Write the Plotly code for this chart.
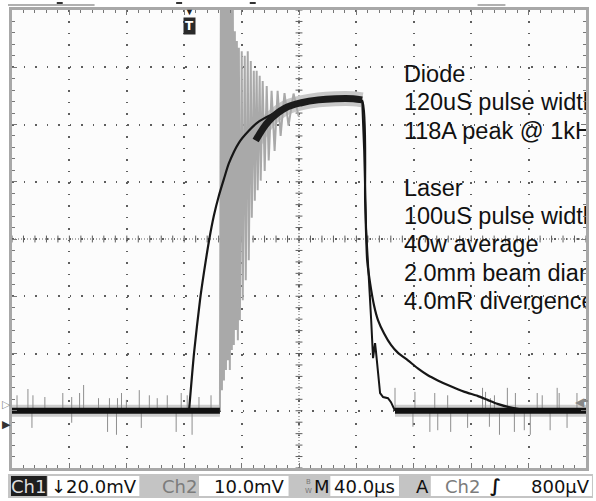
import numpy as np
import plotly.graph_objects as go

# ---------------- data (time in µs, amplitude in screen divisions) ----------------
base_level = -3.0
trigger_t = -76.0

diode_t = [-76.6, -73.1, -69.0, -66.2, -62.7, -59.3, -55.8, -52.3, -48.9, -41.9, -35.0, -28.1,
           -21.1, -10.7, -0.3, 13.5, 27.4, 37.8, 44.0, 46.1, 47.5, 49.6, 52.3, 55.1, 59.3, 64.1,
           69.0, 75.9, 82.8, 89.8, 96.7, 103.7, 115.4, 124.4, 131.4, 138.3, 148.7, 159.1, 200.0]
diode_v = [-2.99, -1.98, -1.07, -0.58, -0.03, 0.41, 0.76, 1.05, 1.32, 1.68, 1.89, 2.05,
           2.15, 2.27, 2.34, 2.41, 2.45, 2.43, 2.41, 0.67, -0.37, -0.78, -1.16, -1.42, -1.65, -1.85,
           -1.99, -2.12, -2.26, -2.38, -2.47, -2.55, -2.67, -2.74, -2.81, -2.88, -2.95, -2.99, -3.0]

laser_pre_t = [-200.0, -55.1]
laser_pre_v = [-3.0, -3.0]

laser_ring_t = [-55.1, -54.4, -53.7, -53.0, -52.3, -51.6, -50.9, -50.3, -49.6, -48.9, -48.2, -47.5,
                -46.8, -46.1, -45.4, -44.7, -44.0, -43.3, -42.6, -41.9, -41.2, -39.9, -39.2, -37.8,
                -37.1, -35.7, -35.0, -33.6, -32.9, -31.5, -30.8, -29.5, -28.8, -27.4, -26.7, -25.3,
                -23.9, -22.5, -21.1, -19.1, -17.0, -14.9, -12.8, -10.1, -7.3, -3.8, -0.3]
laser_ring_v = [-3.0, 4.5, -2.64, 4.5, -2.47, 4.5, -2.29, 4.5, -2.12, 4.5, -2.29, 4.3,
                -1.94, 4.0, -1.85, 3.63, -1.59, 3.46, -1.77, 3.34, -1.42, 3.28, -1.07, 3.20,
                -0.72, 3.28, -0.37, 3.11, 0.37, 2.94, 0.67, 2.94, 0.85, 2.85, 1.02, 2.76,
                1.19, 2.67, 1.37, 2.59, 1.54, 2.59, 1.80, 2.55, 1.98, 2.54, 2.15]

laser_plateau_t = [-30.2, -21.1, -9.4, 1.7, 13.5, 25.3, 37.8, 44.0]
laser_plateau_v = [1.72, 2.06, 2.29, 2.38, 2.43, 2.45, 2.45, 2.43]

laser_fall_t = [44.0, 45.4, 46.8, 48.2, 49.6, 50.3, 51.6, 52.3, 53.0, 53.7, 55.1, 56.5,
                58.6, 62.0, 64.1, 66.9]
laser_fall_v = [2.43, 1.54, 0.15, -0.46, -0.90, -1.42, -2.08, -1.94, -1.82, -1.98, -2.33, -2.69,
                -2.76, -2.78, -2.85, -3.0]

laser_post_t = [66.9, 200.0]
laser_post_v = [-3.0, -3.0]

spike_t = [-196.5, -188.9, -185.4, -177.1, -164.6, -158.4, -152.9, -150.1, -139.7, -132.1,
           -126.5, -123.7, -120.3, -111.3, -104.3, -98.8, -91.8, -82.1, -77.9, -69.7, -61.3,
           -186.1, -158.4, -133.4, -127.2, -109.9, -85.6, -74.5,
           66.9, 80.8, 94.6, 103.6, 127.9, 130.0, 133.4, 136.2, 145.2, 150.8, 166.0, 169.5,
           179.9, 181.3, 193.7,
           79.4, 91.2, 96.7, 105.7, 117.5, 132.7, 139.7, 150.1, 157.0, 161.2, 175.0, 186.8]
spike_v = [-2.73, -2.62, -2.73, -2.76, -2.69, -2.76, -2.69, -2.55, -2.78, -2.78,
           -2.78, -2.69, -2.81, -2.64, -2.73, -2.78, -2.73, -2.69, -2.73, -2.76, -2.73,
           -3.30, -3.21, -3.37, -3.42, -3.30, -3.37, -3.42,
           -2.60, -2.67, -2.69, -2.73, -2.60, -2.67, -2.78, -2.73, -2.60, -2.69, -2.69, -2.73,
           -2.60, -2.69, -2.69,
           -3.28, -3.37, -3.34, -3.37, -3.30, -3.28, -3.42, -3.37, -3.34, -3.42, -3.34, -3.30]

notes = ["Diode", "120uS pulse width", "118A peak @ 1kHz", "", "Laser",
         "100uS pulse width", "40w average", "2.0mm beam diameter", "4.0mR divergence"]

ch1_label = "Ch1"
ch1_scale = "↓20.0mV"
ch2_label = "Ch2"
ch2_scale = "10.0mV"
time_scale = "40.0µs"
trig_source = "Ch2"
trig_level = "800µV"

# ---------------- figure ----------------
W, H = 596, 501
ML, MR, MT, MB = 12, 7, 9, 33
PW, PH = W - ML - MR, H - MT - MB


def xp(px):
    return (px - ML) / PW


def yp(py):
    return (H - MB - py) / PH


fig = go.Figure()
dark = "#161616"

# halos (persistence fuzz)
fig.add_trace(go.Scatter(x=laser_pre_t + [None] + laser_post_t, y=laser_pre_v + [None] + laser_post_v,
                         mode="lines", line=dict(color="#cdcdcd", width=12), hoverinfo="skip"))
fig.add_trace(go.Scatter(x=laser_plateau_t, y=laser_plateau_v, mode="lines",
                         line=dict(color="#c8c8c8", width=15, shape="spline"), hoverinfo="skip"))

# noise spikes
sx, sy = [], []
for t, v in zip(spike_t, spike_v):
    sx += [t, t, None]
    sy += [base_level, v, None]
fig.add_trace(go.Scatter(x=sx, y=sy, mode="lines", line=dict(color="#8e8e8e", width=1), hoverinfo="skip"))

# relaxation oscillation ringing
fig.add_trace(go.Scatter(x=laser_ring_t, y=laser_ring_v, mode="lines",
                         line=dict(color="#a9a9a9", width=2), hoverinfo="skip"))

# diode trace
fig.add_trace(go.Scatter(x=diode_t, y=diode_v, mode="lines",
                         line=dict(color=dark, width=2.2, shape="spline", smoothing=0.6), hoverinfo="skip"))

# laser plateau and fall
fig.add_trace(go.Scatter(x=laser_plateau_t, y=laser_plateau_v, mode="lines",
                         line=dict(color="#1c1c1c", width=7, shape="spline"), hoverinfo="skip"))
fig.add_trace(go.Scatter(x=laser_fall_t, y=laser_fall_v, mode="lines",
                         line=dict(color=dark, width=2), hoverinfo="skip"))

# baselines
fig.add_trace(go.Scatter(x=laser_pre_t + [None] + laser_post_t, y=laser_pre_v + [None] + laser_post_v,
                         mode="lines", line=dict(color="#111111", width=6), hoverinfo="skip"))

# notes (clipped by the graticule like the scope screen)
note_x = 73.1
note_top = 2.85
note_step = 0.497
fig.add_trace(go.Scatter(x=[note_x] * len(notes), y=[note_top - i * note_step for i in range(len(notes))],
                         mode="text", text=notes, textposition="middle right", cliponaxis=True,
                         textfont=dict(family="Liberation Sans, Arial, sans-serif", size=23.5, color="#111111"),
                         hoverinfo="skip"))

# ---------------- graticule ----------------
shapes = []
grid_c = "#5e5e5e"
shapes.append(dict(type="line", xref="x", yref="y", x0=-200, x1=200, y0=0, y1=0, layer="below",
                   line=dict(color=grid_c, width=1, dash="1px,2px")))
shapes.append(dict(type="line", xref="x", yref="y", x0=0, x1=0, y0=-4, y1=4, layer="below",
                   line=dict(color=grid_c, width=1, dash="1px,2px")))
for t in np.arange(-200, 200.1, 8):
    shapes.append(dict(type="line", xref="x", yref="y", x0=t, x1=t, y0=-0.06, y1=0.06, layer="below",
                       line=dict(color=grid_c, width=1)))
for v in np.arange(-4, 4.01, 0.2):
    shapes.append(dict(type="line", xref="x", yref="y", x0=-2.4, x1=2.4, y0=v, y1=v, layer="below",
                       line=dict(color=grid_c, width=1)))

# top record bar
shapes.append(dict(type="line", xref="paper", yref="paper", x0=xp(8), x1=xp(95), y0=yp(4), y1=yp(4),
                   line=dict(color="#b0b0b0", width=2)))
shapes.append(dict(type="line", xref="paper", yref="paper", x0=xp(480), x1=xp(508), y0=yp(4), y1=yp(4),
                   line=dict(color="#b0b0b0", width=2)))
for mx in (60, 180, 254):
    shapes.append(dict(type="line", xref="paper", yref="paper", x0=xp(mx - 3), x1=xp(mx + 3), y0=yp(2), y1=yp(2),
                       line=dict(color="#333333", width=2)))

# trigger level arrow tail (right)
shapes.append(dict(type="line", xref="paper", yref="y", x0=xp(584), x1=xp(591), y0=-2.83, y1=-2.83,
                   line=dict(color="#888888", width=2)))


# status bar
def rect(x0, x1, y0, y1, color):
    shapes.append(dict(type="rect", xref="paper", yref="paper", x0=xp(x0), x1=xp(x1), y0=yp(y1), y1=yp(y0),
                       fillcolor=color, line=dict(width=0), layer="above"))


rect(8, 596, 474, 498, "#c4c4c4")
rect(11, 47, 476, 496, "#1e1e1e")
rect(48, 140, 476, 496, "#ffffff")
rect(200, 290, 476, 496, "#ffffff")
rect(332, 401, 476, 496, "#ffffff")
rect(433, 595, 476, 496, "#ffffff")

ann = []
SB_Y = yp(486.5)
sb_font = "DejaVu Sans, Verdana, sans-serif"


def label(text, px, anchor="left", color="#111111", size=18, bold=False):
    ann.append(dict(text=("<b>%s</b>" % text) if bold else text, xref="paper", yref="paper",
                    x=xp(px), y=SB_Y, xanchor=anchor, yanchor="middle", showarrow=False,
                    font=dict(family=sb_font, size=size, color=color)))


label(ch1_label, 29, "center", "#dedede")
label(ch1_scale, 49)
label(ch2_label, 180, "center", "#7c7c7c")
label(ch2_scale, 213)
ann.append(dict(text="B<br>W", xref="paper", yref="paper", x=xp(310), y=SB_Y, xanchor="center",
                yanchor="middle", showarrow=False, font=dict(family=sb_font, size=7, color="#777777")))
label("M", 324, "center")
label(time_scale, 334)
label("A", 425, "center")
label(trig_source, 445, "left", "#7c7c7c")
label("∫", 498, "center", "#111111", 18, True)
label(trig_level, 595, "right")

# ground markers on the left
ann.append(dict(text="▷", xref="paper", yref="paper", x=xp(6), y=yp(403), xanchor="center", yanchor="middle",
                showarrow=False, font=dict(size=11, color="#888888")))
ann.append(dict(text="▶", xref="paper", yref="paper", x=xp(6), y=yp(423), xanchor="center", yanchor="middle",
                showarrow=False, font=dict(size=11, color="#333333")))
# trigger level arrow on the right
ann.append(dict(text="◀", xref="paper", yref="y", x=xp(583), y=-2.83, xanchor="center", yanchor="middle",
                showarrow=False, font=dict(size=12, color="#888888")))
# trigger position marker
ann.append(dict(text="▼", xref="x", yref="paper", x=trigger_t, y=yp(11), xanchor="center", yanchor="middle",
                showarrow=False, font=dict(size=9, color="#222222")))
ann.append(dict(text="<b>T</b>", xref="x", yref="paper", x=trigger_t, y=yp(25), xanchor="center",
                yanchor="middle", showarrow=False, bgcolor="#2a2a2a", borderpad=1,
                font=dict(family="DejaVu Sans", size=12, color="#ffffff")))

fig.update_layout(
    width=W, height=H,
    margin=dict(l=ML, r=MR, t=MT, b=MB, pad=0),
    paper_bgcolor="#ffffff",
    plot_bgcolor="#fcfcfc",
    showlegend=False,
    shapes=shapes,
    annotations=ann,
    xaxis=dict(range=[-200, 200], dtick=40, tick0=0, showgrid=True, gridcolor=grid_c, gridwidth=1.5,
               griddash="1.5px,9.975px", zeroline=False, showticklabels=False,
               ticks="inside", ticklen=5, tickcolor="#777777", tickwidth=1,
               minor=dict(dtick=8, tick0=0, ticks="inside", ticklen=3, tickcolor="#777777", showgrid=False),
               showline=True, linecolor="#a8a8a8", linewidth=3, mirror="ticks", fixedrange=True),
    yaxis=dict(range=[-4, 4], dtick=1, tick0=0, showgrid=True, gridcolor=grid_c, gridwidth=1.5,
               griddash="1.5px,10.04px", zeroline=False, showticklabels=False,
               ticks="inside", ticklen=5, tickcolor="#777777", tickwidth=1,
               minor=dict(dtick=0.2, tick0=0, ticks="inside", ticklen=3, tickcolor="#777777", showgrid=False),
               showline=True, linecolor="#a8a8a8", linewidth=3, mirror="ticks", fixedrange=True),
)

fig.write_html("out.html", config={"displayModeBar": False},
               post_script="document.body.style.margin='0';document.body.style.overflow='hidden';")
